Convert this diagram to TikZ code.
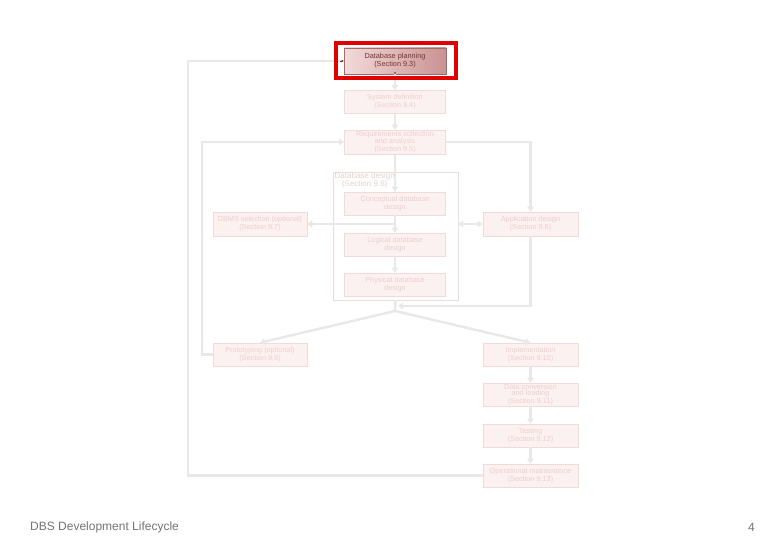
\documentclass[tikz,border=0pt]{standalone}
\usepackage{fontspec}
\setmainfont{Liberation Sans}
\usetikzlibrary{arrows.meta,shadings}
\definecolor{fadefill}{HTML}{FBF1F1}
\definecolor{fadedraw}{HTML}{F2DADA}
\definecolor{fadetext}{HTML}{F1CDCD}
\definecolor{linegray}{HTML}{E8E8E8}
\definecolor{planleft}{HTML}{F3DADA}
\definecolor{planright}{HTML}{C89292}
\definecolor{plandraw}{HTML}{A46A6A}
\definecolor{plantext}{HTML}{7A3030}
\definecolor{framered}{HTML}{E00000}
\definecolor{foottext}{HTML}{747474}
\definecolor{contdraw}{HTML}{ECDCDC}
\definecolor{conttext}{HTML}{E4D2D2}
\tikzset{
  fadebox/.style={draw=fadedraw, fill=fadefill, line width=0.6pt, text=fadetext,
    minimum width=101pt, minimum height=23pt, align=center, inner sep=0.5pt,
    font=\fontsize{7.3}{7.9}\selectfont},
  threeline/.style={font=\fontsize{7.3}{6.8}\selectfont},
  sidebox/.style={fadebox, minimum width=94pt, minimum height=24pt},
  conn/.style={draw=linegray, line width=2.4pt},
  arr/.style={conn, -{Triangle[width=6.5pt,length=5pt]}},
  darr/.style={conn, {Triangle[width=6.5pt,length=5pt]}-{Triangle[width=6.5pt,length=5pt]}},
}
\begin{document}
\begin{tikzpicture}[x=1pt,y=-1pt]
\useasboundingbox[fill=white] (0,0) rectangle (780,540);

% container
\node[draw=contdraw, line width=0.7pt, minimum width=125pt, minimum height=128pt, inner sep=0pt] (cont) at (395.5,236) {};
\node[anchor=north west, align=center, text=conttext, inner sep=0pt,
  font=\fontsize{8}{7.5}\selectfont] (contlbl) at (334.5,173) {Database design\\(Section 9.6)};

% boxes
\node[fadebox, draw=plandraw, left color=planleft, right color=planright, text=plantext,
  minimum width=102pt, minimum height=26pt] (plan) at (395,61) {Database planning\\(Section 9.3)};
\node[fadebox] (sysdef) at (395,102) {System definition\\(Section 9.4)};
\node[fadebox, threeline, minimum height=24pt] (req) at (395,142) {Requirements collection\\and analysis\\(Section 9.5)};
\node[fadebox] (concept) at (395,203.5) {Conceptual database\\design};
\node[fadebox] (logical) at (395,244.5) {Logical database\\design};
\node[fadebox] (physical) at (395,284.5) {Physical database\\design};
\node[sidebox] (dbms) at (260,224) {DBMS selection (optional)\\(Section 9.7)};
\node[sidebox, minimum width=95pt] (app) at (530.5,224) {Application design\\(Section 9.8)};
\node[sidebox, minimum height=23pt] (proto) at (260,354.5) {Prototyping (optional)\\(Section 9.9)};
\node[sidebox, minimum width=95pt, minimum height=23pt] (impl) at (530.5,354.5) {Implementation\\(Section 9.10)};
\node[sidebox, threeline, minimum width=95pt, minimum height=23pt] (conv) at (530.5,394.5) {Data conversion\\and loading\\(Section 9.11)};
\node[sidebox, minimum width=95pt, minimum height=23pt] (test) at (530.5,435.5) {Testing\\(Section 9.12)};
\node[sidebox, minimum width=95pt, minimum height=23pt] (ops) at (530.5,475.5) {Operational maintenance\\(Section 9.13)};

% coordinates
\coordinate (split) at (395,311);
\coordinate (appjoin) at (398,306);
\coordinate (dbmsjoin) at (395,224);

% connectors
\draw[arr] (plan.south) -- (sysdef.north);
\draw[arr] (sysdef.south) -- (req.north);
\draw[arr] (req.south) -- (concept.north);
\draw[arr] (concept.south) -- (logical.north);
\draw[arr] (logical.south) -- (physical.north);
\draw[arr] (dbmsjoin) -- (dbms.east);
\draw[darr] (cont.east |- dbmsjoin) -- (app.west);
\draw[arr] (req.east) -| (app.north);
\draw[arr] (app.south) |- (appjoin);
\draw[conn] (cont.south) -- (split);
\draw[arr] (split) -- (proto.north);
\draw[arr] (split) -- (impl.north);
\draw[arr] (impl.south) -- (conv.north);
\draw[arr] (conv.south) -- (test.north);
\draw[arr] (test.south) -- (ops.north);
\draw[arr] (proto.west) -- ++(-11,0) |- (req.west);
\draw[conn] (ops.west) -- ++(-294.5,0) |- ([xshift=-3pt]plan.west);
\draw[draw=plantext, line width=0.5pt, -{Triangle[width=2.5pt,length=2pt]}] ([xshift=-4pt]plan.west) -- (plan.west);
\fill[plandraw] ([xshift=-1.2pt]plan.south) rectangle ([xshift=1.2pt,yshift=2.4pt]plan.south);

% highlight frame
\draw[framered, line width=4pt] (335.5,43) rectangle (455.5,78.5);

% footer
\node[anchor=west, text=foottext, font=\fontsize{12}{14}\selectfont, inner sep=0pt] (title) at (30,527) {DBS Development Lifecycle};
\node[anchor=east, text=foottext, font=\fontsize{12}{14}\selectfont, inner sep=0pt] (pnum) at (755,527) {4};
\end{tikzpicture}
\end{document}
